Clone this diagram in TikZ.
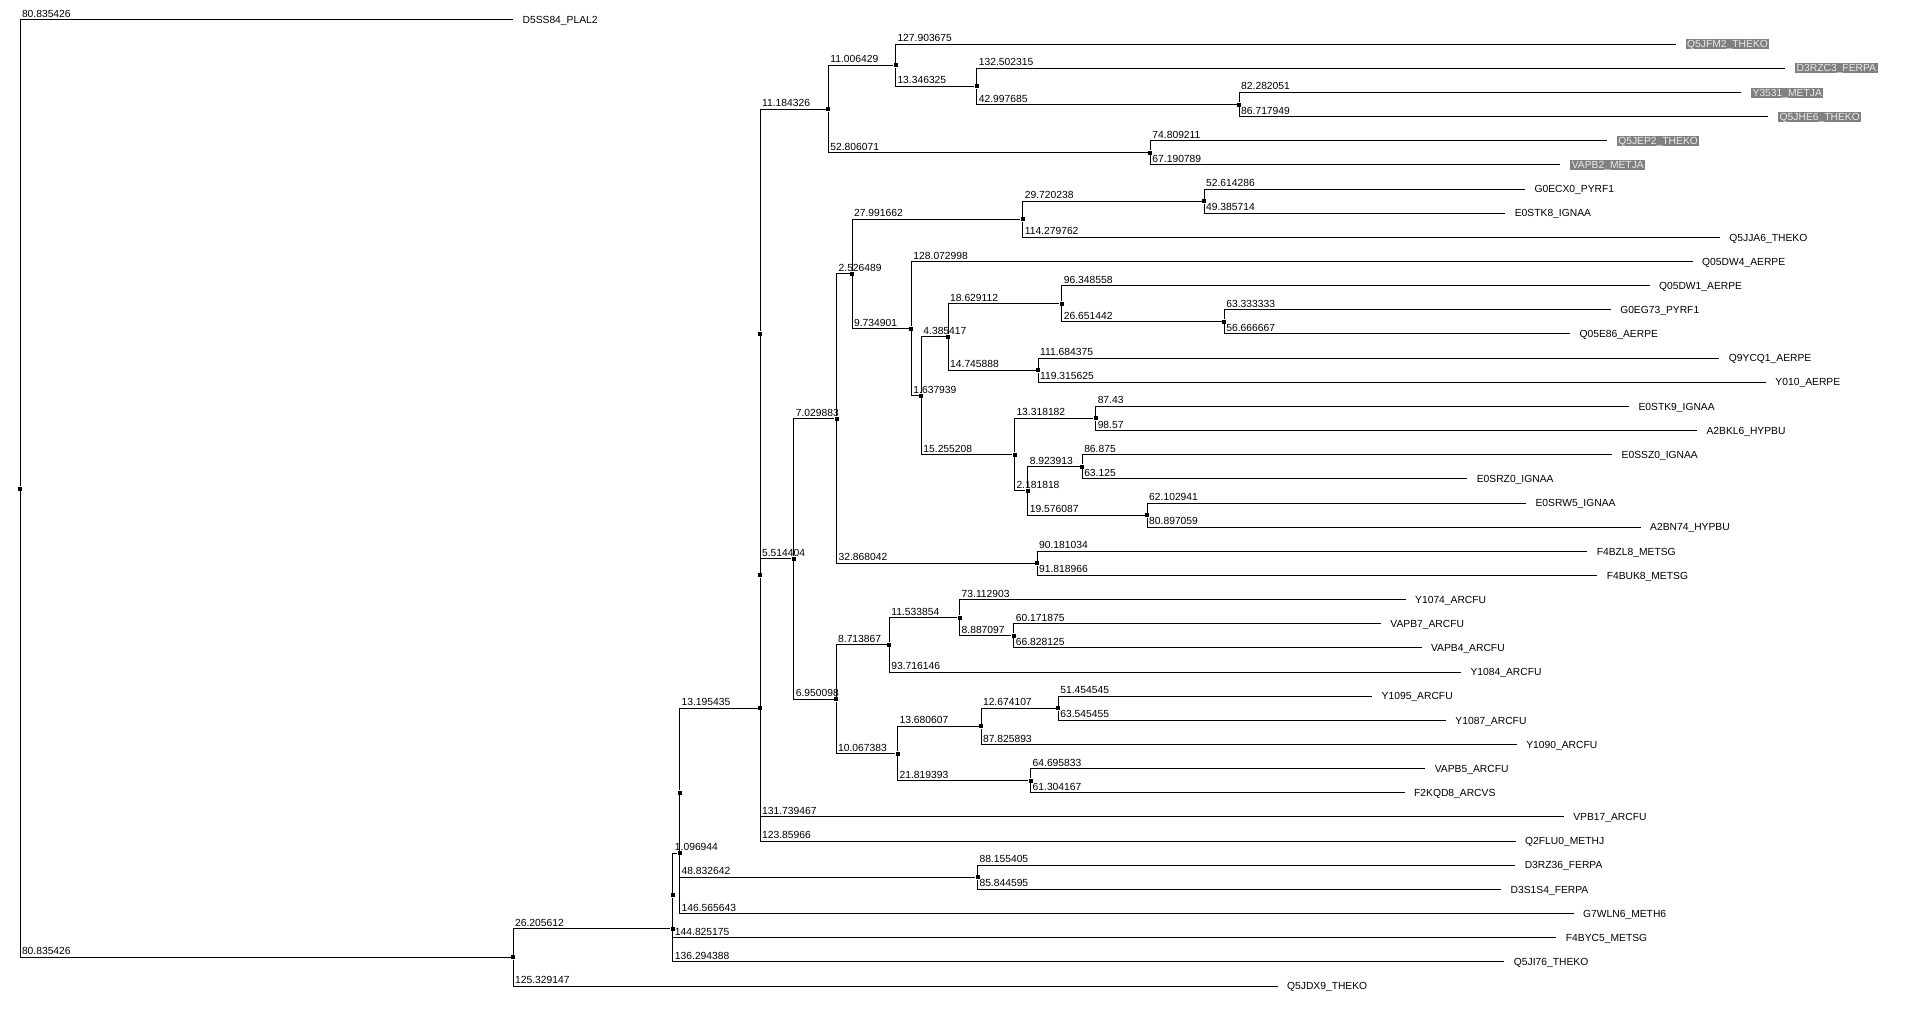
\documentclass[tikz,border=0pt]{standalone}
\usepackage{fontspec}
\setmainfont{Liberation Sans}
\definecolor{hibg}{RGB}{128,128,128}
\definecolor{hitext}{RGB}{235,235,235}
\begin{document}
\begin{tikzpicture}[x=1pt,y=-1pt,line width=1pt,
    declare function={cx(\cum)=20+6.1*\cum; ry(\rw)=20+24.15*\rw;},
    every node/.style={font=\fontsize{10.3}{12}\selectfont},
    joint/.style={fill,inner sep=0pt,minimum size=4pt},
    dist/.style={anchor=base west,inner sep=0pt,xshift=1.5pt,yshift=2.5pt},
    leaf/.style={anchor=base west,inner sep=0pt,xshift=9pt,yshift=-3.7pt},
    hit/.style={anchor=base west,inner sep=1.5pt,xshift=9.5pt,yshift=-3.7pt,fill=hibg,text=hitext,text height=7pt,text depth=0pt}]
  \path[use as bounding box,fill=white] (0,0) rectangle (1912,1011);
  \node[joint] (R) at ({cx(0)},{ry(19.40625)}) {};
  \node[joint] (N1) at ({cx(80.835426)},{ry(38.8125)}) {};
  \node[joint] (A) at ({cx(107.041038)},{ry(37.625)}) {};
  \node[joint] (D) at ({cx(107.041038)},{ry(36.25)}) {};
  \node[joint] (B) at ({cx(108.137982)},{ry(34.5)}) {};
  \node[joint] (F) at ({cx(108.137982)},{ry(32)}) {};
  \node[joint] (Fe) at ({cx(156.970624)},{ry(35.5)}) {};
  \node[joint] (H) at ({cx(121.333417)},{ry(28.500488)}) {};
  \node[joint] (H2) at ({cx(121.333417)},{ry(23.000977)}) {};
  \node[joint] (H3) at ({cx(121.333417)},{ry(13.001953)}) {};
  \node[joint] (T) at ({cx(132.517743)},{ry(3.6875)}) {};
  \node[joint] (T1) at ({cx(143.524172)},{ry(1.875)}) {};
  \node[joint] (T3) at ({cx(156.870497)},{ry(2.75)}) {};
  \node[joint] (T4) at ({cx(199.868182)},{ry(3.5)}) {};
  \node[joint] (T2) at ({cx(185.323814)},{ry(5.5)}) {};
  \node[joint] (P) at ({cx(126.847821)},{ry(22.316406)}) {};
  \node[joint] (Q) at ({cx(133.877704)},{ry(16.507813)}) {};
  \node[joint] (Q1) at ({cx(136.404193)},{ry(10.515625)}) {};
  \node[joint] (Q3) at ({cx(164.395855)},{ry(8.25)}) {};
  \node[joint] (Q5) at ({cx(194.116093)},{ry(7.5)}) {};
  \node[joint] (Q4) at ({cx(146.139094)},{ry(12.78125)}) {};
  \node[joint] (Q6) at ({cx(147.777033)},{ry(15.5625)}) {};
  \node[joint] (Q7) at ({cx(152.16245)},{ry(13.125)}) {};
  \node[joint] (Q9) at ({cx(170.791562)},{ry(11.75)}) {};
  \node[joint] (Q11) at ({cx(197.443004)},{ry(12.5)}) {};
  \node[joint] (Q10) at ({cx(166.908338)},{ry(14.5)}) {};
  \node[joint] (Q8) at ({cx(163.032241)},{ry(18)}) {};
  \node[joint] (Q12) at ({cx(176.350423)},{ry(16.5)}) {};
  \node[joint] (Q13) at ({cx(165.214059)},{ry(19.5)}) {};
  \node[joint] (Q14) at ({cx(174.137972)},{ry(18.5)}) {};
  \node[joint] (Q15) at ({cx(184.790146)},{ry(20.5)}) {};
  \node[joint] (Q2) at ({cx(166.745746)},{ry(22.5)}) {};
  \node[joint] (U) at ({cx(133.797919)},{ry(28.125)}) {};
  \node[joint] (U1) at ({cx(142.511786)},{ry(25.875)}) {};
  \node[joint] (U3) at ({cx(154.04564)},{ry(24.75)}) {};
  \node[joint] (U4) at ({cx(162.932737)},{ry(25.5)}) {};
  \node[joint] (U2) at ({cx(143.865302)},{ry(30.375)}) {};
  \node[joint] (U5) at ({cx(157.545909)},{ry(29.25)}) {};
  \node[joint] (U7) at ({cx(170.220016)},{ry(28.5)}) {};
  \node[joint] (U6) at ({cx(165.684695)},{ry(31.5)}) {};
  \path ({cx(80.835426)},{ry(0)}) coordinate (l0) node[leaf] {D5SS84\_PLAL2};
  \path ({cx(271.427847)},{ry(1)}) coordinate (l1) node[hit] {Q5JFM2\_THEKO};
  \path ({cx(289.372812)},{ry(2)}) coordinate (l2) node[hit] {D3RZC3\_FERPA};
  \path ({cx(282.150233)},{ry(3)}) coordinate (l3) node[hit] {Y3531\_METJA};
  \path ({cx(286.586131)},{ry(4)}) coordinate (l4) node[hit] {Q5JHE6\_THEKO};
  \path ({cx(260.133025)},{ry(5)}) coordinate (l5) node[hit] {Q5JEP2\_THEKO};
  \path ({cx(252.514603)},{ry(6)}) coordinate (l6) node[hit] {VAPB2\_METJA};
  \path ({cx(246.730379)},{ry(7)}) coordinate (l7) node[leaf] {G0ECX0\_PYRF1};
  \path ({cx(243.501807)},{ry(8)}) coordinate (l8) node[leaf] {E0STK8\_IGNAA};
  \path ({cx(278.675617)},{ry(9)}) coordinate (l9) node[leaf] {Q5JJA6\_THEKO};
  \path ({cx(274.212092)},{ry(10)}) coordinate (l10) node[leaf] {Q05DW4\_AERPE};
  \path ({cx(267.14012)},{ry(11)}) coordinate (l11) node[leaf] {Q05DW1\_AERPE};
  \path ({cx(260.776337)},{ry(12)}) coordinate (l12) node[leaf] {G0EG73\_PYRF1};
  \path ({cx(254.109671)},{ry(13)}) coordinate (l13) node[leaf] {Q05E86\_AERPE};
  \path ({cx(278.592713)},{ry(14)}) coordinate (l14) node[leaf] {Q9YCQ1\_AERPE};
  \path ({cx(286.223963)},{ry(15)}) coordinate (l15) node[leaf] {Y010\_AERPE};
  \path ({cx(263.780423)},{ry(16)}) coordinate (l16) node[leaf] {E0STK9\_IGNAA};
  \path ({cx(274.920423)},{ry(17)}) coordinate (l17) node[leaf] {A2BKL6\_HYPBU};
  \path ({cx(261.012972)},{ry(18)}) coordinate (l18) node[leaf] {E0SSZ0\_IGNAA};
  \path ({cx(237.262972)},{ry(19)}) coordinate (l19) node[leaf] {E0SRZ0\_IGNAA};
  \path ({cx(246.893087)},{ry(20)}) coordinate (l20) node[leaf] {E0SRW5\_IGNAA};
  \path ({cx(265.687205)},{ry(21)}) coordinate (l21) node[leaf] {A2BN74\_HYPBU};
  \path ({cx(256.92678)},{ry(22)}) coordinate (l22) node[leaf] {F4BZL8\_METSG};
  \path ({cx(258.564712)},{ry(23)}) coordinate (l23) node[leaf] {F4BUK8\_METSG};
  \path ({cx(227.158543)},{ry(24)}) coordinate (l24) node[leaf] {Y1074\_ARCFU};
  \path ({cx(223.104612)},{ry(25)}) coordinate (l25) node[leaf] {VAPB7\_ARCFU};
  \path ({cx(229.760862)},{ry(26)}) coordinate (l26) node[leaf] {VAPB4\_ARCFU};
  \path ({cx(236.227932)},{ry(27)}) coordinate (l27) node[leaf] {Y1084\_ARCFU};
  \path ({cx(221.674561)},{ry(28)}) coordinate (l28) node[leaf] {Y1095\_ARCFU};
  \path ({cx(233.765471)},{ry(29)}) coordinate (l29) node[leaf] {Y1087\_ARCFU};
  \path ({cx(245.371802)},{ry(30)}) coordinate (l30) node[leaf] {Y1090\_ARCFU};
  \path ({cx(230.380528)},{ry(31)}) coordinate (l31) node[leaf] {VAPB5\_ARCFU};
  \path ({cx(226.988862)},{ry(32)}) coordinate (l32) node[leaf] {F2KQD8\_ARCVS};
  \path ({cx(253.072884)},{ry(33)}) coordinate (l33) node[leaf] {VPB17\_ARCFU};
  \path ({cx(245.193077)},{ry(34)}) coordinate (l34) node[leaf] {Q2FLU0\_METHJ};
  \path ({cx(245.126029)},{ry(35)}) coordinate (l35) node[leaf] {D3RZ36\_FERPA};
  \path ({cx(242.815219)},{ry(36)}) coordinate (l36) node[leaf] {D3S1S4\_FERPA};
  \path ({cx(254.703625)},{ry(37)}) coordinate (l37) node[leaf] {G7WLN6\_METH6};
  \path ({cx(251.866213)},{ry(38)}) coordinate (l38) node[leaf] {F4BYC5\_METSG};
  \path ({cx(243.335426)},{ry(39)}) coordinate (l39) node[leaf] {Q5JI76\_THEKO};
  \path ({cx(206.164573)},{ry(40)}) coordinate (l40) node[leaf] {Q5JDX9\_THEKO};
  \draw (R) |- (l0) node[dist,pos=.5] {80.835426};
  \draw (R) |- (N1) node[dist,pos=.5] {80.835426};
  \draw (N1) |- (A) node[dist,pos=.5] {26.205612};
  \draw (N1) |- (l40) node[dist,pos=.5] {125.329147};
  \draw (A) -- (D);
  \draw (A) |- (l39) node[dist,pos=.5] {136.294388};
  \draw (D) |- (B) node[dist,pos=.5] {1.096944};
  \draw (D) |- (l38) node[dist,pos=.5] {144.825175};
  \draw (B) -- (F);
  \draw (B) |- (l37) node[dist,pos=.5] {146.565643};
  \draw (F) |- (H) node[dist,pos=.5] {13.195435};
  \draw (F) |- (Fe) node[dist,pos=.5] {48.832642};
  \draw (Fe) |- (l35) node[dist,pos=.5] {88.155405};
  \draw (Fe) |- (l36) node[dist,pos=.5] {85.844595};
  \draw (H) -- (H2);
  \draw (H) |- (l34) node[dist,pos=.5] {123.85966};
  \draw (H2) -- (H3);
  \draw (H2) |- (l33) node[dist,pos=.5] {131.739467};
  \draw (H3) |- (T) node[dist,pos=.5] {11.184326};
  \draw (H3) |- (P) node[dist,pos=.5] {5.514404};
  \draw (T) |- (T1) node[dist,pos=.5] {11.006429};
  \draw (T) |- (T2) node[dist,pos=.5] {52.806071};
  \draw (T1) |- (l1) node[dist,pos=.5] {127.903675};
  \draw (T1) |- (T3) node[dist,pos=.5] {13.346325};
  \draw (T3) |- (l2) node[dist,pos=.5] {132.502315};
  \draw (T3) |- (T4) node[dist,pos=.5] {42.997685};
  \draw (T4) |- (l3) node[dist,pos=.5] {82.282051};
  \draw (T4) |- (l4) node[dist,pos=.5] {86.717949};
  \draw (T2) |- (l5) node[dist,pos=.5] {74.809211};
  \draw (T2) |- (l6) node[dist,pos=.5] {67.190789};
  \draw (P) |- (Q) node[dist,pos=.5] {7.029883};
  \draw (P) |- (U) node[dist,pos=.5] {6.950098};
  \draw (Q) |- (Q1) node[dist,pos=.5] {2.526489};
  \draw (Q) |- (Q2) node[dist,pos=.5] {32.868042};
  \draw (Q1) |- (Q3) node[dist,pos=.5] {27.991662};
  \draw (Q1) |- (Q4) node[dist,pos=.5] {9.734901};
  \draw (Q3) |- (Q5) node[dist,pos=.5] {29.720238};
  \draw (Q3) |- (l9) node[dist,pos=.5] {114.279762};
  \draw (Q5) |- (l7) node[dist,pos=.5] {52.614286};
  \draw (Q5) |- (l8) node[dist,pos=.5] {49.385714};
  \draw (Q4) |- (l10) node[dist,pos=.5] {128.072998};
  \draw (Q4) |- (Q6) node[dist,pos=.5] {1.637939};
  \draw (Q6) |- (Q7) node[dist,pos=.5] {4.385417};
  \draw (Q6) |- (Q8) node[dist,pos=.5] {15.255208};
  \draw (Q7) |- (Q9) node[dist,pos=.5] {18.629112};
  \draw (Q7) |- (Q10) node[dist,pos=.5] {14.745888};
  \draw (Q9) |- (l11) node[dist,pos=.5] {96.348558};
  \draw (Q9) |- (Q11) node[dist,pos=.5] {26.651442};
  \draw (Q11) |- (l12) node[dist,pos=.5] {63.333333};
  \draw (Q11) |- (l13) node[dist,pos=.5] {56.666667};
  \draw (Q10) |- (l14) node[dist,pos=.5] {111.684375};
  \draw (Q10) |- (l15) node[dist,pos=.5] {119.315625};
  \draw (Q8) |- (Q12) node[dist,pos=.5] {13.318182};
  \draw (Q8) |- (Q13) node[dist,pos=.5] {2.181818};
  \draw (Q12) |- (l16) node[dist,pos=.5] {87.43};
  \draw (Q12) |- (l17) node[dist,pos=.5] {98.57};
  \draw (Q13) |- (Q14) node[dist,pos=.5] {8.923913};
  \draw (Q13) |- (Q15) node[dist,pos=.5] {19.576087};
  \draw (Q14) |- (l18) node[dist,pos=.5] {86.875};
  \draw (Q14) |- (l19) node[dist,pos=.5] {63.125};
  \draw (Q15) |- (l20) node[dist,pos=.5] {62.102941};
  \draw (Q15) |- (l21) node[dist,pos=.5] {80.897059};
  \draw (Q2) |- (l22) node[dist,pos=.5] {90.181034};
  \draw (Q2) |- (l23) node[dist,pos=.5] {91.818966};
  \draw (U) |- (U1) node[dist,pos=.5] {8.713867};
  \draw (U) |- (U2) node[dist,pos=.5] {10.067383};
  \draw (U1) |- (U3) node[dist,pos=.5] {11.533854};
  \draw (U1) |- (l27) node[dist,pos=.5] {93.716146};
  \draw (U3) |- (l24) node[dist,pos=.5] {73.112903};
  \draw (U3) |- (U4) node[dist,pos=.5] {8.887097};
  \draw (U4) |- (l25) node[dist,pos=.5] {60.171875};
  \draw (U4) |- (l26) node[dist,pos=.5] {66.828125};
  \draw (U2) |- (U5) node[dist,pos=.5] {13.680607};
  \draw (U2) |- (U6) node[dist,pos=.5] {21.819393};
  \draw (U5) |- (U7) node[dist,pos=.5] {12.674107};
  \draw (U5) |- (l30) node[dist,pos=.5] {87.825893};
  \draw (U7) |- (l28) node[dist,pos=.5] {51.454545};
  \draw (U7) |- (l29) node[dist,pos=.5] {63.545455};
  \draw (U6) |- (l31) node[dist,pos=.5] {64.695833};
  \draw (U6) |- (l32) node[dist,pos=.5] {61.304167};
\end{tikzpicture}
\end{document}
